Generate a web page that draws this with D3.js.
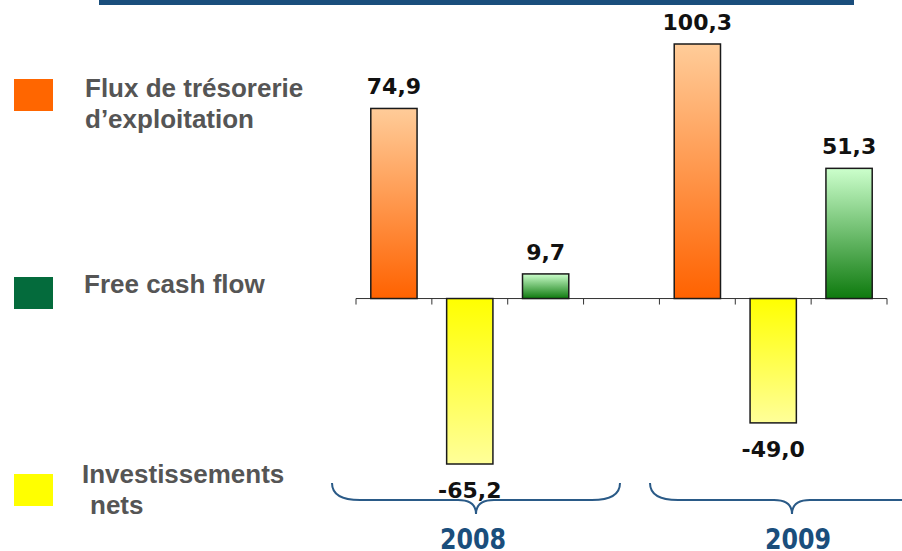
<!DOCTYPE html>
<html>
<head>
<meta charset="utf-8">
<script src="https://cdn.jsdelivr.net/npm/d3@7"></script>
<style>
  html, body { margin: 0; padding: 0; background: #ffffff; }
  svg { display: block; }
</style>
</head>
<body>
<div id="chart"></div>
<script>
// ---- Data ----
const years = ["2008", "2009"];
const seriesNames = ["Flux de trésorerie d\u2019exploitation", "Investissements nets", "Free cash flow"];
const fluxExploitation = [74.9, 100.3];
const investissementsNets = [-65.2, -49.0];
const freeCashFlow = [9.7, 51.3];
const slots = ["2008-flux", "2008-inv", "2008-fcf", "gap", "2009-flux", "2009-inv", "2009-fcf"];

const W = 902, H = 551;
const svg = d3.select("#chart").append("svg").attr("width", W).attr("height", H);

// gradients
const defs = svg.append("defs");
function grad(id, top, bottom) {
  const g = defs.append("linearGradient").attr("id", id)
    .attr("x1", 0).attr("y1", 0).attr("x2", 0).attr("y2", 1);
  g.append("stop").attr("offset", "0%").attr("stop-color", top);
  g.append("stop").attr("offset", "100%").attr("stop-color", bottom);
}
grad("gOrange", "#FFCC99", "#FF6200");
grad("gYellow", "#FFFF00", "#FFFF99");
grad("gGreen", "#CCFFCC", "#0E7A0E");

// top rule
svg.append("rect").attr("x", 99).attr("y", 0).attr("width", 755).attr("height", 5).attr("fill", "#1a4e7c");

// scales
const x = d3.scaleBand().domain(slots).range([356, 887]).paddingInner(0).paddingOuter(0);
const y = d3.scaleLinear().domain([-65.2, 100.3]).range([464, 44]);
const barW = x.bandwidth() * 0.61;

const bars = [];
years.forEach((yr, i) => {
  bars.push({ slot: yr + "-flux", v: fluxExploitation[i], fill: "url(#gOrange)" });
  bars.push({ slot: yr + "-inv", v: investissementsNets[i], fill: "url(#gYellow)" });
  bars.push({ slot: yr + "-fcf", v: freeCashFlow[i], fill: "url(#gGreen)" });
});

const fmt = v => d3.format(".1f")(v).replace(".", ",").replace("\u2212", "-");

// axis line and ticks
const y0 = y(0);
svg.append("line").attr("x1", x.range()[0]).attr("x2", x.range()[1])
  .attr("y1", y0).attr("y2", y0).attr("stroke", "#333").attr("stroke-width", 1);
const tickXs = slots.map(s => x(s)).concat([x.range()[1]]);
svg.selectAll("line.tick").data(tickXs).enter().append("line")
  .attr("class", "tick")
  .attr("x1", d => d).attr("x2", d => d)
  .attr("y1", y0).attr("y2", y0 + 6)
  .attr("stroke", "#333").attr("stroke-width", 1);

// bars
svg.selectAll("rect.bar").data(bars).enter().append("rect")
  .attr("class", "bar")
  .attr("x", d => x(d.slot) + (x.bandwidth() - barW) / 2)
  .attr("y", d => Math.min(y(d.v), y0))
  .attr("width", barW)
  .attr("height", d => Math.abs(y(d.v) - y0))
  .attr("fill", d => d.fill)
  .attr("stroke", "#1a1a1a").attr("stroke-width", 1.5);

// value labels
svg.selectAll("text.val").data(bars).enter().append("text")
  .attr("class", "val")
  .attr("x", d => x(d.slot) + x.bandwidth() / 2)
  .attr("y", d => d.v >= 0 ? y(d.v) - 14 : y(d.v) + 34)
  .attr("text-anchor", "middle")
  .attr("font-family", "DejaVu Sans")
  .attr("font-weight", "bold")
  .attr("font-size", 22)
  .attr("fill", "#111")
  .text(d => fmt(d.v));

// braces and year labels
function bracePath(x0, x1) {
  const m = (x0 + x1) / 2, yt = 483, yh = 500, yb = 514;
  return `M${x0},${yt} Q${x0},${yh} ${x0 + 28},${yh} L${m - 18},${yh} Q${m},${yh} ${m},${yb} ` +
         `Q${m},${yh} ${m + 18},${yh} L${x1 - 28},${yh} Q${x1},${yh} ${x1},${yt}`;
}
const braceSpans = [[332, 620], [650, 934]];
years.forEach((yr, i) => {
  const [a, b] = braceSpans[i];
  svg.append("path").attr("d", bracePath(a, b)).attr("fill", "none")
    .attr("stroke", "#2a5a87").attr("stroke-width", 2);
});
const yearCenters = [473, 798];
svg.selectAll("text.year").data(years).enter().append("text")
  .attr("class", "year")
  .attr("transform", (d, i) => `translate(${yearCenters[i]},549) scale(0.82,1)`)
  .attr("text-anchor", "middle")
  .attr("font-family", "DejaVu Sans")
  .attr("font-weight", "bold")
  .attr("font-size", 29)
  .attr("fill", "#1a4e7c")
  .text(d => d);

// legend
const legend = [
  { color: "#FF6600", y: 79, lines: [["Flux de trésorerie", 85, 97], ["d\u2019exploitation", 85, 128]] },
  { color: "#046B3C", y: 277, lines: [["Free cash flow", 84, 293]] },
  { color: "#FFFF00", y: 474, lines: [["Investissements", 82, 483], ["nets", 90, 514]] }
];
legend.forEach(l => {
  svg.append("rect").attr("x", 14).attr("y", l.y).attr("width", 39).attr("height", 32).attr("fill", l.color);
  l.lines.forEach(t => {
    svg.append("text").attr("x", t[1]).attr("y", t[2])
      .attr("font-family", "Liberation Sans, Arial, sans-serif")
      .attr("font-weight", "bold").attr("font-size", 26)
      .attr("fill", "#555555").text(t[0]);
  });
});
</script>
</body>
</html>
